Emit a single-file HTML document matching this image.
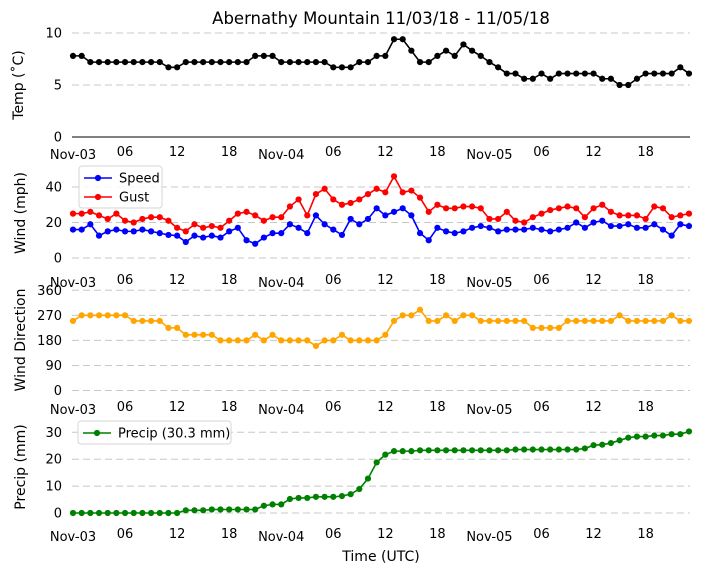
<!DOCTYPE html>
<html><head><meta charset="utf-8"><style>
html,body{margin:0;padding:0;background:#fff;}
svg{display:block;font-family:"DejaVu Sans","Liberation Sans",sans-serif;}
</style></head><body>
<svg id="chart" width="704" height="573" viewBox="0 0 704 573" xmlns="http://www.w3.org/2000/svg">
<text x="381" y="24" font-size="16.5" text-anchor="middle">Abernathy Mountain 11/03/18 - 11/05/18</text>
<text x="381" y="561" font-size="14" text-anchor="middle">Time (UTC)</text>
<g id="plots"></g>
</svg>
<script>
const hours = Array.from({length:72},(_, i)=>i);
const xTickHours = [0,6,12,18,24,30,36,42,48,54,60,66];
const xTickLabels = ["Nov-03","06","12","18","Nov-04","06","12","18","Nov-05","06","12","18"];
const temp = [7.8,7.8,7.2,7.2,7.2,7.2,7.2,7.2,7.2,7.2,7.2,6.7,6.7,7.2,7.2,7.2,7.2,7.2,7.2,7.2,7.2,7.8,7.8,7.8,7.2,7.2,7.2,7.2,7.2,7.2,6.7,6.7,6.7,7.2,7.2,7.8,7.8,
9.4,9.4,8.3,7.2,7.2,7.8,8.3,7.8,8.9,8.3,7.8,7.2,6.7,6.1,6.1,5.6,5.6,6.1,5.6,6.1,6.1,6.1,6.1,6.1,5.6,5.6,5.0,5.0,5.6,6.1,6.1,6.1,6.1,6.7,6.1];
const gust = [25,25,26,24,22,25,21,20,22,23,23,21,17,15,19,17,18,17,21,25,26,24,21,23,23,29,33,24,36,39,33,30,31,33,36,39,37,
46,37,38,34,26,30,28,28,29,29,28,22,22,26,21,20,23,25,27,28,29,28,23,28,30,26,24,24,24,22,29,28,23,24,25];
const speed = [16,16,19,12.6,15,16,15,15,16,15,14,13,12.6,9,12.6,11.5,12.6,11.5,15,17,10,8,11.5,14,14,19,17,14,24,19,16,13,22,19,22,28,24,
26,28,24,14,10,17,15,14,15,17,18,17,15,16,16,16,17,16,15,16,17,20,17,20,21,18,18,19,17,17,19,16,12.6,19,18];
const dir = [250,270,270,270,270,270,270,250,250,250,250,225,225,200,200,200,200,180,180,180,180,200,180,200,180,180,180,180,160,180,180,200,180,180,180,180,200,
250,270,270,290,250,250,270,250,270,270,250,250,250,250,250,250,225,225,225,225,250,250,250,250,250,250,270,250,250,250,250,250,270,250,250];
const precip = [0,0,0,0,0,0,0,0,0,0,0,0,0,1.0,1.0,1.0,1.3,1.3,1.3,1.3,1.3,1.3,2.7,3.2,3.2,5.2,5.6,5.6,6.0,6.0,6.0,6.3,7.0,8.9,12.8,18.8,21.7,
23,23,23,23.3,23.3,23.3,23.3,23.3,23.3,23.3,23.3,23.3,23.3,23.3,23.6,23.6,23.6,23.6,23.6,23.6,23.6,23.6,24,25.2,25.4,26,27,28,28.4,28.4,28.8,28.8,29.3,29.3,30.3];
const tempTicks=[0,5,10], windTicks=[0,20,40], dirTicks=[0,90,180,270,360], precipTicks=[0,10,20,30];

const NS="http://www.w3.org/2000/svg";
const root=document.getElementById('plots');
const X0=72, X1=690;
const xScale=h=>73+h*(616/71);
function mk(tag,attrs,parent){const e=document.createElementNS(NS,tag);for(const k in attrs)e.setAttribute(k,attrs[k]);(parent||root).appendChild(e);return e;}

function panel(cfg){
  const g=mk('g',{});
  
  
  const y=v=>cfg.y0+(v-cfg.vmin)/(cfg.vmax-cfg.vmin)*(cfg.y1-cfg.y0);
  cfg.ticks.forEach((t,i)=>{
    const solid = cfg.solidZero && t===0;
    const ln=mk('line',{x1:X0,x2:X1,y1:y(t),y2:y(t),stroke:solid?'#000':'#c8c8c8','stroke-width':1,'stroke-dasharray':solid?'none':'7,4'},g);
    
    
    const tx=mk('text',{x:62,y:y(t)+4.5,'font-size':13,'text-anchor':'end'},g);
    
    
    tx.textContent=t;
  });
  xTickHours.forEach((h,i)=>{
    const lab=xTickLabels[i];
    const tx=mk('text',{x:xScale(h),y:cfg.xLabY+(lab.startsWith('Nov')?3:0),'font-size':13,'text-anchor':'middle'},g);
    
    
    tx.textContent=lab;
  });
  const yt=mk('text',{x:0,y:0,'font-size':14,'text-anchor':'middle',transform:`translate(${cfg.titleX},${cfg.titleY}) rotate(-90)`},g);
  
  
  yt.textContent=cfg.title;
  cfg.series.forEach(s=>{
    const pts=s.data.map((v,i)=>xScale(hours[i]).toFixed(2)+','+y(v).toFixed(2)).join(' ');
    const pl=mk('polyline',{points:pts,fill:'none',stroke:s.color,'stroke-width':1.6},g);
    
    
    s.data.forEach((v,i)=>{
      const c=mk('circle',{cx:xScale(hours[i]),cy:y(v),r:3.1,fill:s.color},g);
      
      
    });
  });
  return g;
}
panel({name:'temp',vmin:0,vmax:10,y0:137,y1:33,ticks:tempTicks,solidZero:true,xLabY:156,title:'Temp (˚C)',titleX:23,titleY:85,series:[{name:'temp',data:temp,color:'#000'}]});
panel({name:'wind',vmin:0,vmax:40,y0:258,y1:187,ticks:windTicks,xLabY:284,title:'Wind (mph)',titleX:25,titleY:213,series:[{name:'gust',data:gust,color:'#ff0000'},{name:'speed',data:speed,color:'#0000ff'}]});
panel({name:'direction',vmin:0,vmax:360,y0:390.5,y1:290.3,ticks:dirTicks,xLabY:411,title:'Wind Direction',titleX:25,titleY:340,series:[{name:'direction',data:dir,color:'#ffa500'}]});
panel({name:'precip',vmin:0,vmax:30,y0:513,y1:432.3,ticks:precipTicks,xLabY:538,title:'Precip (mm)',titleX:25,titleY:467,series:[{name:'precip',data:precip,color:'#008000'}]});

function legend(x,y,w,h,entries,name){
  const g=mk('g',{});
  
  
  mk('rect',{x:x,y:y,width:w,height:h,rx:3,fill:'#fff','fill-opacity':0.85,stroke:'#d6d6d6'},g);
  entries.forEach((e,i)=>{
    const cy=y+12+i*19;
    mk('line',{x1:x+5,x2:x+33,y1:cy,y2:cy,stroke:e.color,'stroke-width':1.6},g);
    mk('circle',{cx:x+19,cy:cy,r:3.1,fill:e.color},g);
    const t=mk('text',{x:x+40,y:cy+4.5,'font-size':13},g);
    
    
    t.textContent=e.label;
  });
}
legend(79,166,83,42,[{label:'Speed',color:'#0000ff'},{label:'Gust',color:'#ff0000'}],'wind-legend');
legend(78,421,153,23,[{label:'Precip (30.3 mm)',color:'#008000'}],'precip-legend');
</script>
</body></html>
